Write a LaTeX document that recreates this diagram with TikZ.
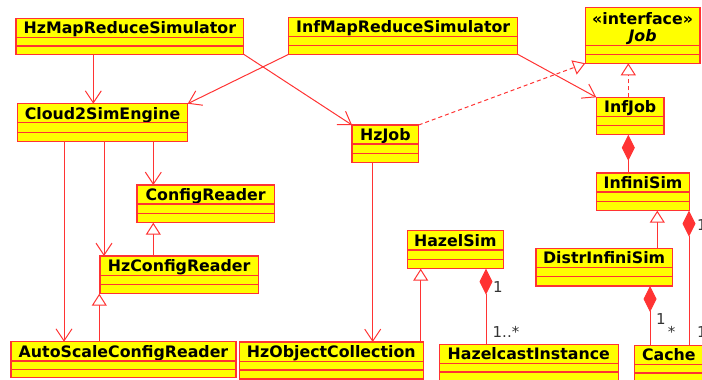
\documentclass[tikz,border=0pt]{standalone}
\usepackage{fontspec}
\setmainfont{DejaVu Sans}
\usetikzlibrary{arrows.meta}
\definecolor{umlred}{RGB}{255,51,51}
\definecolor{umlyellow}{RGB}{255,255,0}
\tikzset{
 clsbox/.style={draw=umlred, fill=umlyellow, line width=1.4pt, inner sep=0pt, outer sep=0pt},
 clstitle/.style={font=\bfseries\fontsize{15.8}{18}\selectfont, inner sep=0pt, anchor=base},
 cline/.style={draw=umlred, line width=1.4pt},
 assoc/.style={draw=umlred, line width=1pt, -{Straight Barb[length=12pt,width=16pt]}},
 gen/.style={draw=umlred, line width=1pt, -{Triangle[open,length=12pt,width=15pt,fill=white]}},
 real/.style={gen, dash pattern=on 4pt off 3pt},
 comp/.style={draw=umlred, line width=1pt, {Diamond[length=26pt,width=13pt,fill=umlred]}-},
 mult/.style={font=\fontsize{15}{18}\selectfont, text=black!80, inner sep=0pt, anchor=base},
}
% name, x1, y1, x2, y2, title height, text
\newcommand\umlclass[7]{%
 \pgfmathsetmacro\cw{#4-#2}\pgfmathsetmacro\ch{#5-#3}%
 \node[clsbox, anchor=north west, minimum width=\cw pt, minimum height=\ch pt] (#1) at (#2,#3) {};
 \pgfmathsetmacro\la{#3+#6}\pgfmathsetmacro\lb{(#3+#6+#5)/2}\pgfmathsetmacro\tb{#3+15.6}%
 \node[clstitle] (#1-t) at ({(#2+#4)/2},\tb) {#7};
 \draw[cline] (#1.west |- 0,\la) -- (#1.east |- 0,\la);
 \draw[cline] (#1.west |- 0,\lb) -- (#1.east |- 0,\lb);
}
\begin{document}
\begin{tikzpicture}[x=1pt,y=-1pt]
\useasboundingbox (0,0) rectangle (702,380);
\umlclass{hzmrs}{16}{18.3}{243.7}{54.3}{19}{HzMapReduceSimulator}
\umlclass{infmrs}{288.7}{17.3}{517.7}{54.3}{19.4}{InfMapReduceSimulator}
\umlclass{cloud}{17.3}{103.7}{187.7}{141.7}{19}{Cloud2SimEngine}
\umlclass{infjob}{596.3}{97.3}{664}{134.7}{19}{InfJob}
\umlclass{hzjob}{352}{125}{418.7}{162.7}{19}{HzJob}
\umlclass{infinisim}{596.3}{173}{689.7}{210.7}{19}{InfiniSim}
\umlclass{config}{137}{185}{274.3}{222.7}{19}{ConfigReader}
\umlclass{hzconfig}{100}{256}{258.3}{293.7}{19.3}{HzConfigReader}
\umlclass{autoscale}{11}{341.7}{236}{377.7}{19.3}{AutoScaleConfigReader}
\umlclass{hzobj}{239.3}{342}{423.3}{379}{19.3}{HzObjectCollection}
\umlclass{hazelsim}{407.3}{230.7}{503.3}{268.7}{19.3}{HazelSim}
\umlclass{hazelcast}{439.3}{344.3}{618.3}{381}{19}{HazelcastInstance}
\umlclass{distr}{536}{248.3}{672.3}{286}{19}{DistrInfiniSim}
\umlclass{cache}{634.7}{345.3}{703}{382}{19}{Cache}
% interface Job
\node[clsbox, anchor=north west, minimum width=114.7pt, minimum height=56pt] (job) at (585.3,7.3) {};
\node[clstitle] (job-t1) at (642.6,24.3) {«interface»};
\node[clstitle] (job-t2) at (642.6,41.3) {\itshape Job};
\draw[cline] (job.west |- 0,45.7) -- (job.east |- 0,45.7);
\draw[cline] (job.west |- 0,54.3) -- (job.east |- 0,54.3);
% associations
\draw[assoc] (hzmrs.south -| 93.3,0) -- (cloud.north -| 93.3,0);
\draw[assoc] (infmrs.south west) -- (cloud.north east);
\draw[assoc] (hzmrs.south east) -- (hzjob.north west);
\draw[assoc] (infmrs.south east) -- (infjob.north west);
\draw[assoc] (hzjob.south -| 372.7,0) -- (hzobj.north -| 372.7,0);
\draw[assoc] (cloud.south -| 153.3,0) -- (config.north -| 153.3,0);
\draw[assoc] (cloud.south -| 104,0) -- (hzconfig.north -| 104,0);
\draw[assoc] (cloud.south -| 64,0) -- (autoscale.north -| 64,0);
% realizations
\draw[real] (hzjob.north east) -- (job.south west);
\draw[real] (infjob.north -| 628.3,0) -- (job.south -| 628.3,0);
% generalizations
\draw[gen] (hzconfig.north -| 153.3,0) -- (config.south -| 153.3,0);
\draw[gen] (autoscale.north -| 99.3,0) -- (hzconfig.south -| 99.3,0);
\draw[gen] (hzobj.north -| 420.7,0) -- (hazelsim.south -| 420.7,0);
\draw[gen] (distr.north -| 657.3,0) -- (infinisim.south -| 657.3,0);
% compositions
\draw[comp] (infjob.south -| 628.3,0) -- (infinisim.north -| 628.3,0);
\draw[comp] (hazelsim.south -| 486,0) -- (hazelcast.north -| 486,0);
\draw[comp] (distr.south -| 650,0) -- (cache.north -| 650,0);
\draw[comp] (infinisim.south -| 689,0) -- (cache.north -| 689,0);
% multiplicities
\node[mult] (m1) at (498,292) {1};
\node[mult, anchor=base west] (m2) at (492.5,337) {1..*};
\node[mult] (m3) at (661,324) {1};
\node[mult] (m4) at (671.5,337) {*};
\node[mult, anchor=base west] (m5) at (697,230) {1};
\node[mult, anchor=base west] (m6) at (697,337) {1};
\end{tikzpicture}
\end{document}
